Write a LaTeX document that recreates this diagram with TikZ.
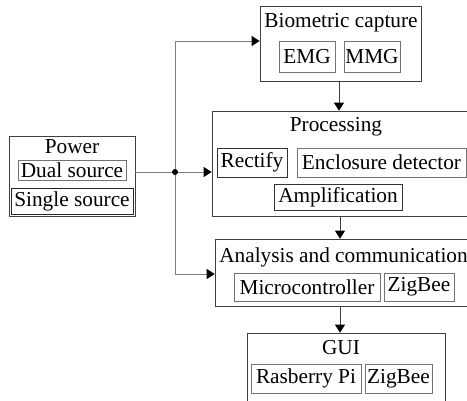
\documentclass[tikz,border=0pt]{standalone}
\usepackage{fontspec}
\setmainfont{Liberation Serif}
\newfontfamily\labelfont{Liberation Serif}
\usetikzlibrary{arrows.meta}
\begin{document}
\begin{tikzpicture}[x=1pt,y=-1pt,
  font=\labelfont\fontsize{21.3}{24}\selectfont,
  outerbox/.style={draw=black!75,line width=0.7pt,rectangle,inner sep=0pt},
  innerbox/.style={draw=black!55,line width=0.7pt,rectangle,inner sep=0pt},
  title/.style={inner sep=0pt,anchor=center},
  link/.style={draw=black!50,line width=0.8pt},
  tip/.style={-{Triangle[length=8pt,width=10pt,color=black]}}]
\useasboundingbox (0,0) rectangle (467,400);
\clip (0,0) rectangle (467,400);
\fill[white] (0,0) rectangle (467,400);

% outer blocks
\node[outerbox,minimum width=161pt,minimum height=75pt] (bio) at (340.5,43.5) {};
\node[outerbox,minimum width=268pt,minimum height=105pt] (proc) at (346,163.5) {};
\node[outerbox,minimum width=265pt,minimum height=67pt] (ana) at (347.5,272.5) {};
\node[outerbox,minimum width=198pt,minimum height=80pt] (gui) at (346,373) {};
\node[outerbox,minimum width=126pt,minimum height=80pt] (power) at (72,176) {};

% titles
\node[title] (tbio) at (341,23) {Biometric capture};
\node[title] (tproc) at (336,127) {Processing};
\node[title] (tana) at (343.5,257) {Analysis and communication};
\node[title] (tgui) at (341,348) {GUI};
\node[title] (tpow) at (72,147) {Power};

% inner blocks
\node[innerbox,minimum width=56pt,minimum height=31pt] (emg) at (307,56.5) {EMG};
\node[innerbox,minimum width=56pt,minimum height=31pt] (mmg) at (372,56.5) {MMG};
\node[innerbox,draw=black!80,minimum width=70pt,minimum height=29pt] (rect) at (252,162.5) {Rectify};
\node[innerbox,minimum width=169pt,minimum height=29pt] (encl) at (381.5,162.5) {Enclosure detector};
\node[innerbox,draw=black!80,minimum width=128pt,minimum height=26pt] (amp) at (338,197) {Amplification};
\node[innerbox,minimum width=146pt,minimum height=28pt] (mcu) at (307,287) {Microcontroller};
\node[innerbox,minimum width=70pt,minimum height=28pt] (zb1) at (419,287) {ZigBee};
\node[innerbox,minimum width=110pt,minimum height=29pt] (rpi) at (306,378.5) {Rasberry Pi};
\node[innerbox,minimum width=67pt,minimum height=29pt] (zb2) at (398.5,378.5) {ZigBee};
\node[innerbox,minimum width=108pt,minimum height=20pt] (dual) at (72,170) {Dual source};
\node[innerbox,draw=black!85,minimum width=122pt,minimum height=26pt] (single) at (72,201) {Single source};

% power distribution
\coordinate (j) at (175,172);
\coordinate (jtop) at (175,41);
\coordinate (jbot) at (175,274);
\path[link] (j -| power.east) -- (j);
\path[link,tip] (j) -- (j -| proc.west);
\path[link,tip] (j) -- (jtop) -- (jtop -| bio.west);
\path[link,tip] (j) -- (jbot) -- (jbot -| ana.west);
\fill[black] (j) circle (3pt);

% signal chain
\path[link,draw=black!75,tip] (bio.south -| 339,0) -- (proc.north -| 339,0);
\path[link,draw=black!75,tip] (proc.south -| 340,0) -- (ana.north -| 340,0);
\path[link,draw=black!75,tip] (ana.south -| 340,0) -- (gui.north -| 340,0);
\end{tikzpicture}
\end{document}
